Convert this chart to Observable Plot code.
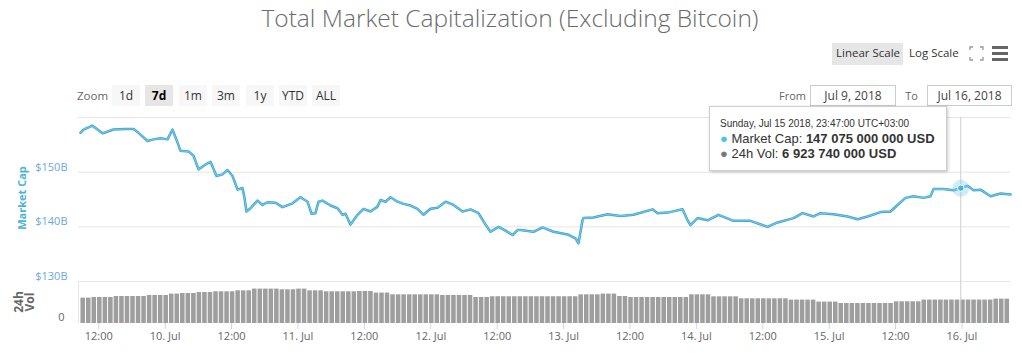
<!DOCTYPE html>
<html><head><meta charset="utf-8">
<script src="https://cdn.jsdelivr.net/npm/d3@7"></script>
<script src="https://cdn.jsdelivr.net/npm/@observablehq/plot@0.6"></script>
<style>
body{margin:0;background:#fff;font-family:"Open Sans",sans-serif;}
#wrap{position:relative;width:1022px;height:356px;overflow:hidden;background:#fff;}
.abs{position:absolute;white-space:nowrap;}
#title{left:0;top:2px;width:1020px;text-align:center;font-size:24.5px;font-weight:300;line-height:31px;color:#6b6b6b;}
.btn{position:absolute;top:85px;height:21px;line-height:21px;width:28px;text-align:center;font-size:12px;color:#333;background:#f7f7f7;}
.btn.sel{background:#e6e6e6;font-weight:bold;color:#000;}
.lbl{font-size:11px;color:#666;line-height:20px;}
.inp{position:absolute;top:85px;height:21px;line-height:20px;border:1px solid #cccccc;box-sizing:border-box;text-align:center;font-size:12px;color:#444;}
.rot{position:absolute;transform:translate(-50%,-50%) rotate(-90deg);white-space:nowrap;text-align:center;font-weight:bold;}
#tip{left:709px;top:106px;width:238px;height:65px;box-sizing:border-box;background:rgba(255,255,255,0.96);border:1px solid #cfcfcf;box-shadow:1px 1px 3px rgba(0,0,0,0.22);color:#333;font-family:"Liberation Sans",Arial,sans-serif;}
#tip div{position:absolute;left:10px;white-space:nowrap;}
.plotbox{position:absolute;left:0;}
</style></head>
<body><div id="wrap">
<div id="title" class="abs">Total Market Capitalization (Excluding Bitcoin)</div>
<div class="abs" style="left:832px;top:43px;width:71px;height:22px;background:#e6e6e6;"></div>
<div class="abs lbl" style="left:836px;top:43px;font-size:11.5px;color:#333;">Linear Scale</div>
<div class="abs lbl" style="left:909px;top:43px;font-size:11.5px;color:#333;">Log Scale</div>
<svg class="abs" style="left:969px;top:46px" width="15" height="15" viewBox="0 0 15 15"><g stroke="#999" stroke-width="1.3" fill="none"><path d="M1 4V1H4M11 1H14V4M14 11V14H11M4 14H1V11"/></g></svg>
<div class="abs" style="left:992px;top:46px;width:16px;height:2.5px;background:#666"></div>
<div class="abs" style="left:992px;top:52px;width:16px;height:2.5px;background:#666"></div>
<div class="abs" style="left:992px;top:58px;width:16px;height:2.5px;background:#666"></div>
<div class="abs lbl" style="left:77px;top:86px;font-size:11.5px;">Zoom</div>
<div id="buttons"></div>
<div class="abs lbl" style="right:216px;top:86px;">From</div>
<div class="inp" id="fromBox" style="left:810px;width:86px;"></div>
<div class="abs lbl" style="right:104px;top:86px;">To</div>
<div class="inp" id="toBox" style="left:927px;width:85px;"></div>
<div id="price" class="plotbox" style="top:100px"></div>
<div id="volume" class="plotbox" style="top:281px"></div>
<div class="rot" style="left:21px;top:198px;font-size:11px;color:#4cb4db;">Market Cap</div>
<div class="rot" style="left:24px;top:302px;font-size:12px;line-height:11px;color:#666;">24h<br>Vol</div>
<div id="tip" class="abs">
  <div id="tipDate" style="top:11px;font-size:10px;line-height:12px;"></div>
  <div id="tipCap" style="top:23.5px;font-size:13px;line-height:15px;"></div>
  <div id="tipVol" style="top:38.5px;font-size:13px;line-height:15px;"></div>
</div>
</div>
<script>
// ---------- data ----------
const baseDay = "2018-07-09T00:00Z";             // local (UTC+03:00) time shown as UTC
const capHours = [8.69,9.24,10.86,12.67,14.66,16.83,18.28,19.18,20.81,21.89,23.16,24.42,25.32,26.23,26.77,28.21,29.12,30.02,31.29,32.19,33.27,34.36,35.26,36.17,37.07,37.97,38.33,38.69,39.42,40.68,41.59,42.49,43.94,45.20,47.01,48.45,49.72,50.44,51.16,51.71,52.43,53.88,55.14,56.05,56.59,57.49,58.76,59.84,61.11,62.37,62.91,63.82,64.72,65.99,67.07,68.34,69.60,70.69,71.95,73.22,74.66,76.11,77.73,79.18,80.62,81.89,82.79,84.24,85.50,86.77,87.67,88.21,90.56,92.19,94.18,96.71,98.16,98.70,99.42,99.60,101.41,103.94,106.29,108.64,112.07,112.98,114.79,117.50,118.40,118.94,120.21,122.02,124.00,126.71,129.79,132.86,134.67,137.56,139.19,141.17,142.44,144.79,147.32,149.13,150.93,153.28,155.09,156.35,157.80,159.24,161.05,162.31,162.85,164.66,166.47,167.78,169.00,170.08,171.35,173.16,174.97,176.78];
const capValues = [157.2,157.8,158.5,157.1,157.8,157.9,157.9,157.2,155.7,156.0,156.2,156.0,157.8,155.4,153.9,153.8,153.0,150.5,151.4,151.9,149.3,149.6,150.4,149.3,146.8,147.1,145.3,142.8,143.4,144.8,144.0,144.5,144.4,143.6,144.3,145.4,144.6,142.4,142.5,144.6,144.8,143.9,143.4,142.2,142.4,140.4,142.2,143.3,142.8,143.7,144.9,144.6,145.4,144.6,144.2,143.9,143.3,142.2,143.3,143.5,144.6,144.0,142.8,143.2,142.5,140.4,139.1,140.0,139.3,138.5,139.4,139.4,139.1,139.9,139.1,138.6,137.9,137.0,141.2,141.6,141.7,142.3,142.0,142.2,143.2,142.5,142.6,143.2,141.2,140.3,141.6,141.2,142.2,141.1,141.1,140.0,140.8,141.6,142.5,141.9,142.5,142.3,141.9,141.4,141.9,142.7,142.8,144.0,145.3,145.6,145.3,145.6,146.9,146.9,146.7,147.075,147.5,146.7,146.8,145.6,146.1,145.9];
const volStart = "2018-07-09T08:41Z";            // hourly bars, billions USD
const volValues = [
 7.50,7.50, 7.68,7.68,7.68,7.68, 7.97,7.97,7.97,7.97,7.97,7.97, 8.27,8.27,8.27,8.27,
 8.68,8.68, 8.86,8.86,8.86, 9.15,9.15,9.15, 9.36,9.36,9.36,9.36, 9.65,9.65,9.65,
 10.16,10.16,10.16,10.16,10.16, 9.95,9.95,9.95, 10.16,10.16, 9.65,9.65,9.65,
 9.36,9.36,9.36,9.36,9.36,9.36, 9.45,9.45,9.45, 8.98,8.98,8.98,
 8.47,8.47,8.47,8.47,8.47,8.47,8.47,8.47,8.47, 8.27,8.27,8.27,8.27,8.27,8.27,
 7.68,7.68,7.68, 7.90,7.90,7.90,7.90,7.90,7.90,7.90,7.90,7.90,7.90,7.90,7.90,7.90,7.90,7.90,7.90,
 8.47,8.47,8.47,8.47, 8.68,8.68,8.68, 7.97,7.97,
 7.68,7.68,7.68,7.68,7.68,7.68,7.68,7.68,7.68,7.68,7.68, 8.47,8.47,8.47,8.47,
 7.88,7.88,7.88,7.88,7.88, 7.29,7.29,7.29,7.29,7.29,7.29,7.29,7.29,7.29,
 6.91,6.91,6.91,6.91,6.91, 6.32,6.32,6.32,6.32,
 5.90,5.90,5.90,5.90,5.90,5.90,5.90,5.90,5.90,5.90, 6.41,6.41,6.41,6.41,6.41,
 6.92,6.92,6.92,6.92,6.92,6.92,6.92,6.92,6.92,6.92,6.92,6.92,6.92, 7.20,7.20,7.20];
const xRange = ["2018-07-09T08:20Z", "2018-07-16T08:46Z"];
const capGrid = [130, 140, 150, 160];
const capTicks = [130, 140, 150];
const capDomain = [130, 160];
const volTicks = [0];
const volDomain = [0, 12.4];
const zoomButtons = ["1d", "7d", "1m", "3m", "1y", "YTD", "ALL"];
const zoomSelected = "7d";
const fromLabel = "Jul 9, 2018", toLabel = "Jul 16, 2018";
const tipTime = "2018-07-15T23:47Z", tipCap = 147075000000, tipVol = 6923740000;

// ---------- build ----------
const HOUR = 3600e3;
const base = new Date(baseDay).getTime();
const capData = capHours.map((h, i) => ({t: new Date(base + h * HOUR), v: capValues[i]}));
const vs = new Date(volStart).getTime();
const volData = volValues.map((v, i) => ({t1: new Date(vs + i * HOUR), t2: new Date(vs + (i + 1) * HOUR), v}));
const xDomain = xRange.map(d => new Date(d));
const tipT = new Date(tipTime);
const tipPoint = [{t: tipT, v: tipCap / 1e9}];
const xTicks = d3.utcHour.every(12).range(xDomain[0], xDomain[1]);
const fDay = d3.utcFormat("%-d. %b"), fHour = d3.utcFormat("%H:%M");
const tickFmt = d => d.getUTCHours() === 0 ? fDay(d) : fHour(d);
const font = '"Open Sans", sans-serif';

const price = Plot.plot({
  width: 1022, height: 183, marginTop: 17, marginBottom: 2, marginLeft: 78, marginRight: 12,
  style: {background: "transparent", overflow: "visible", fontFamily: font, fontSize: "11px"},
  x: {type: "utc", domain: xDomain, axis: null},
  y: {domain: capDomain, axis: null},
  marks: [
    Plot.gridY(capGrid, {stroke: "#e6e6e6", strokeOpacity: 1}),
    Plot.axisY(capTicks, {tickSize: 0, tickPadding: 11, dy: -5, textAnchor: "end", fill: "#6aa9dc", tickFormat: d => `$${d}B`, label: null}),
    Plot.ruleX([tipT], {stroke: "#cccccc"}),
    Plot.line(capData, {x: "t", y: "v", stroke: "#4a98cf", strokeWidth: 2.5}),
    Plot.line(capData, {x: "t", y: "v", stroke: "#62d2e3", strokeWidth: 1.1}),
    Plot.dot(tipPoint, {x: "t", y: "v", r: 8.5, fill: "#7cc8ec", fillOpacity: 0.35, stroke: null}),
    Plot.dot(tipPoint, {x: "t", y: "v", r: 3.2, fill: "#3fb6dc", stroke: "white", strokeWidth: 1})
  ]
});
document.getElementById("price").appendChild(price);

const volume = Plot.plot({
  width: 1022, height: 75, marginTop: 0, marginBottom: 33, marginLeft: 78, marginRight: 12,
  style: {background: "transparent", overflow: "visible", fontFamily: font, fontSize: "11px"},
  x: {type: "utc", domain: xDomain, axis: null},
  y: {domain: volDomain, axis: null},
  marks: [
    Plot.rect(volData, {x1: "t1", x2: "t2", y1: 0, y2: "v", fill: "#9e9e9e", insetLeft: 0.5, insetRight: 0.5}),
    Plot.ruleX([xDomain[0]], {stroke: "#e6e6e6"}),
    Plot.ruleX([tipT], {stroke: "#cccccc"}),
    Plot.axisX(xTicks, {tickSize: 6, tickPadding: 3, stroke: "#ccd6eb", fill: "#666", tickFormat: tickFmt, label: null}),
    Plot.axisY(volTicks, {tickSize: 0, tickPadding: 14, dy: -6, textAnchor: "end", fill: "#666", label: null})
  ]
});
document.getElementById("volume").appendChild(volume);

// range selector buttons
const btnLeft = [112, 145, 179, 212, 246, 279, 312];
const bc = document.getElementById("buttons");
zoomButtons.forEach((b, i) => {
  const el = document.createElement("div");
  el.className = "btn" + (b === zoomSelected ? " sel" : "");
  el.style.left = btnLeft[i] + "px";
  el.textContent = b;
  bc.appendChild(el);
});
document.getElementById("fromBox").textContent = fromLabel;
document.getElementById("toBox").textContent = toLabel;

// tooltip
const loc = d3.formatLocale({decimal: ".", thousands: " ", grouping: [3], currency: ["", ""]});
const num = loc.format(",");
document.getElementById("tipDate").textContent = d3.utcFormat("%A, %b %-d %Y, %H:%M:%S")(tipT) + " UTC+03:00";
document.getElementById("tipCap").innerHTML = `<span style="color:#4fc1e9">\u25CF</span> Market Cap: <b>${num(tipCap)} USD</b>`;
document.getElementById("tipVol").innerHTML = `<span style="color:#777">\u25CF</span> 24h Vol: <b>${num(tipVol)} USD</b>`;
</script>
</body></html>
